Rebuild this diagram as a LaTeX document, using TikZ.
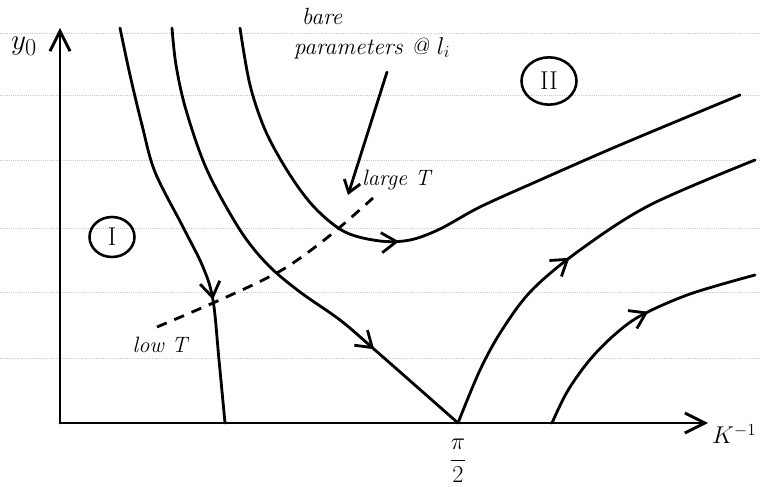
\documentclass[tikz,border=0pt]{standalone}
\usepackage{amsmath}
\usetikzlibrary{arrows.meta,decorations.markings,shapes.geometric}

\tikzset{
  stroke/.style={line width=2.4pt, line cap=round, line join=round},
  axis/.style={stroke, -{Straight Barb[length=6mm,width=6mm]}},
  flowarrow/.style={postaction={decorate}, decoration={markings,
      mark=at position #1 with {\arrow[line width=2.4pt]{Straight Barb[length=4.5mm,width=6mm]}}}},
  bare/.style={stroke, line cap=butt, dash pattern=on 9pt off 7pt},
  ruled/.style={black!20, line width=0.6pt, densely dotted},
  region/.style={draw, ellipse, line width=2.2pt, inner sep=0pt,
      font=\fontsize{22}{24}\selectfont},
  hand/.style={font=\fontsize{20}{22}\selectfont\itshape, inner sep=0pt},
}

\begin{document}
\begin{tikzpicture}[x=0.03cm, y=-0.03cm]
  \useasboundingbox (0,0) rectangle (761,487);

  % ruled paper
  \foreach \yy in {33,95,160,228,292,358}
    \draw[ruled] (0,\yy) -- (761,\yy);

  % axes
  \coordinate (o) at (60,423);
  \coordinate (ytip) at (60,28);
  \coordinate (xtip) at (708,423);
  \coordinate (half) at (458,423);
  \draw[axis] (o) -- (ytip);
  \draw[axis] (o) -- (xtip);
  \node (ylbl) at (24,46) {\fontsize{30}{32}\selectfont $y_0$};
  \node[anchor=west, inner sep=0pt] (klbl) at (712,434) {\fontsize{20}{22}\selectfont $K^{-1}$};
  \node (pilbl) at (458,461) {\fontsize{20}{22}\selectfont $\dfrac{\pi}{2}$};

  % flow lines
  \draw[stroke, flowarrow=0.70] plot[smooth, tension=0.55] coordinates
    {(120,28) (130,75) (142,125) (155,172) (183,227) (203,267) (213,300) (219,360) (225,423)};
  \draw[stroke, flowarrow=0.78] plot[smooth, tension=0.55] coordinates
    {(172,28) (176,65) (186,110) (207,170) (240,230) (268,265) (300,292) (340,320) (375,350) (half)};
  \draw[stroke, flowarrow=0.44] plot[smooth, tension=0.55] coordinates
    {(240,28) (250,85) (266,132) (290,175) (315,208) (345,232) (380,241) (410,240) (440,229) (480,207) (540,180) (620,145) (740,95)};
  \draw[stroke, flowarrow=0.49] plot[smooth, tension=0.55] coordinates
    {(half) (480,370) (502,330) (532,290) (580,250) (650,205) (755,160)};
  \draw[stroke, flowarrow=0.57] plot[smooth, tension=0.55] coordinates
    {(552,423) (567,392) (588,362) (612,337) (640,316) (690,294) (755,275)};

  % bare parameters
  \coordinate (lowT) at (157,327);
  \coordinate (highT) at (373,198);
  \draw[bare] plot[smooth, tension=0.6] coordinates
    {(lowT) (213,303) (263,280) (293,263) (333,233) (highT)};
  \node[hand] (barelbl) at (322,16) {bare};
  \node[hand] (paramlbl) at (372,48) {parameters @ $l_i$};
  \coordinate (ptrstart) at (387,72);
  \coordinate (ptrtip) at (348,195);
  \draw[stroke, -{Straight Barb[length=3.5mm,width=5mm]}] (ptrstart) -- (ptrtip);
  \node[hand, anchor=west, font=\fontsize{19}{21}\selectfont\itshape] (hightlbl) at (362,180) {large T};
  \node[hand, font=\fontsize{19}{21}\selectfont\itshape] (lowtlbl) at (160,345) {low T};

  % regions
  \node[region, minimum width=1.35cm, minimum height=1.2cm] (regI) at (112,237) {I};
  \node[region, minimum width=1.65cm, minimum height=1.42cm] (regII) at (549,81) {II};
\end{tikzpicture}
\end{document}
